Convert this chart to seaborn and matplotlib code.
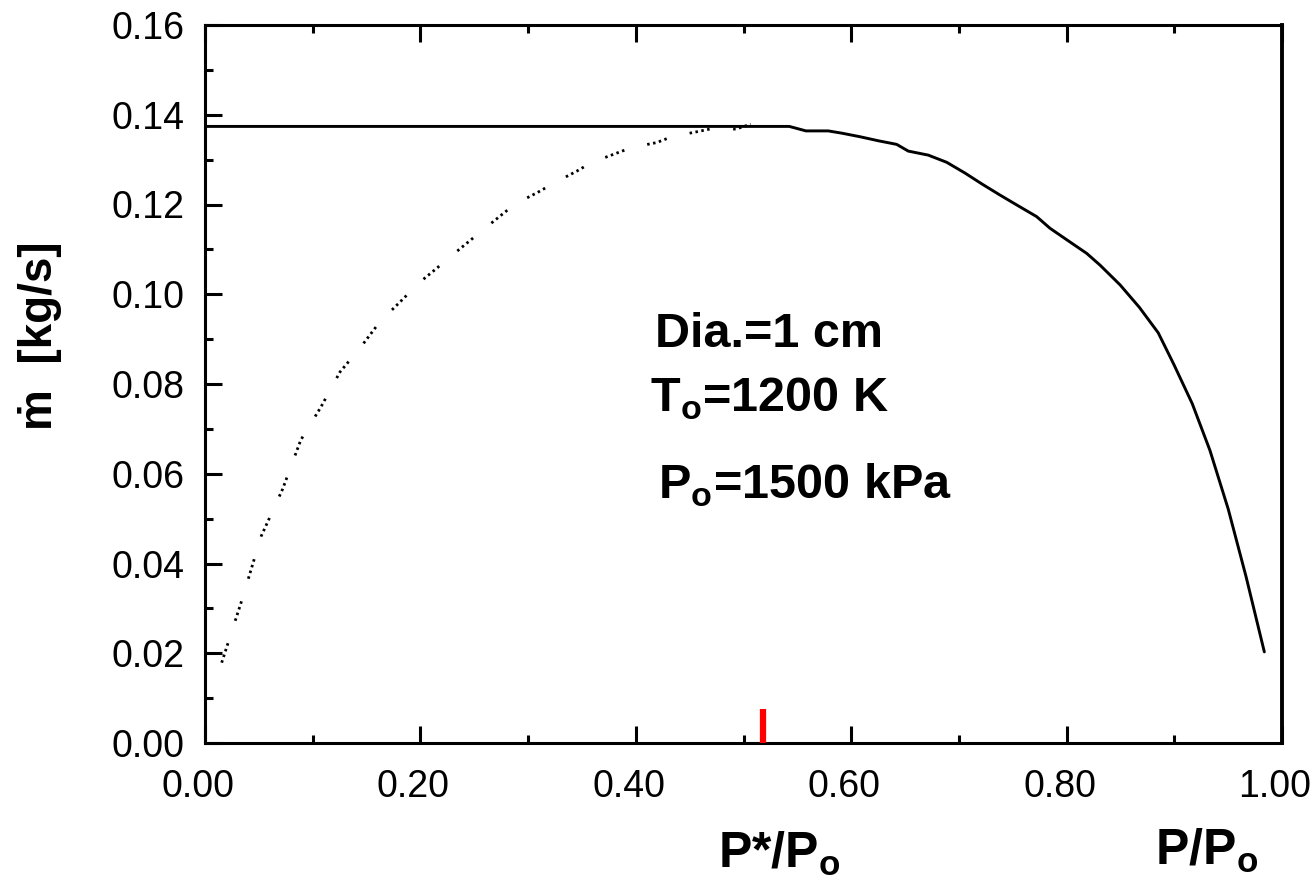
import matplotlib
matplotlib.use("Agg")
import matplotlib.pyplot as plt
import matplotlib.transforms as mtransforms
from matplotlib.ticker import MultipleLocator, FormatStrFormatter
import seaborn as sns

# choked branch: flat at critical flow, then falls off towards P/Po = 1
p_ratio = [0.0, 0.5425, 0.558, 0.5787, 0.5912, 0.6082, 0.6252, 0.6422, 0.6530,
           0.6716, 0.6887, 0.7057, 0.7212, 0.7382, 0.7551, 0.7722, 0.7846,
           0.8016, 0.8187, 0.8310, 0.8496, 0.8675, 0.8851, 0.8997, 0.9167,
           0.9331, 0.9501, 0.9666, 0.9836]
m_flow = [0.1374, 0.1374, 0.1364, 0.1364, 0.1359, 0.1351, 0.1342, 0.1334, 0.1319,
          0.1310, 0.1294, 0.1270, 0.1246, 0.1221, 0.1197, 0.1173, 0.1147,
          0.1119, 0.1091, 0.1065, 0.1021, 0.0971, 0.0914, 0.0843, 0.0756,
          0.0652, 0.0521, 0.0371, 0.0203]

# isentropic branch below the critical ratio (dotted)
p_ratio_dot = [0.0155, 0.0346, 0.0520, 0.0721, 0.0889, 0.1077, 0.1254, 0.1439,
               0.1625, 0.1820, 0.1990, 0.2157, 0.2361, 0.2523, 0.2723, 0.2878,
               0.3089, 0.3219, 0.3457, 0.3584, 0.3828, 0.3962, 0.4194, 0.4333,
               0.4565, 0.4705, 0.4930, 0.5067]
m_flow_dot = [0.0179, 0.0321, 0.0460, 0.0566, 0.0675, 0.0749, 0.0827, 0.0880,
              0.0939, 0.0985, 0.1026, 0.1059, 0.1100, 0.1132, 0.1171, 0.1201,
              0.1227, 0.1245, 0.1275, 0.1293, 0.1315, 0.1327, 0.1338, 0.1351,
              0.1362, 0.1369, 0.1368, 0.1379]

p_crit = 0.518
p_crit_mark = 0.0075

sns.set_style("ticks")
plt.rcParams["font.family"] = ["Liberation Sans", "DejaVu Sans"]
plt.rcParams["mathtext.fontset"] = "custom"
plt.rcParams["mathtext.rm"] = "Liberation Sans"
plt.rcParams["mathtext.bf"] = "Liberation Sans:bold"
plt.rcParams["lines.scale_dashes"] = False
for key in ["text.color", "axes.labelcolor", "xtick.color", "ytick.color",
            "axes.edgecolor"]:
    plt.rcParams[key] = "black"

fig = plt.figure(figsize=(13.15, 8.85), dpi=100)
ax = fig.add_axes([205 / 1315, 142 / 885, 1077 / 1315, 718 / 885])

sns.lineplot(x=p_ratio, y=m_flow, ax=ax, color="black", lw=2.1, sort=False)
sns.lineplot(x=p_ratio_dot, y=m_flow_dot, ax=ax, color="black", lw=2.0, sort=False,
             linestyle=(0, (1.8, 2.5, 1.8, 2.5, 1.8, 2.5, 1.8, 17)))
ax.vlines(p_crit, 0, p_crit_mark, color="red", lw=4.5, zorder=5)

ax.set_xlim(0, 1.0)
ax.set_ylim(0, 0.16)
ax.xaxis.set_major_locator(MultipleLocator(0.2))
ax.xaxis.set_minor_locator(MultipleLocator(0.1))
ax.yaxis.set_major_locator(MultipleLocator(0.02))
ax.yaxis.set_minor_locator(MultipleLocator(0.01))
ax.xaxis.set_major_formatter(FormatStrFormatter("%.2f"))
ax.yaxis.set_major_formatter(FormatStrFormatter("%.2f"))

ax.tick_params(which="both", direction="in", top=True, right=False, width=2.2,
               color="black", labelcolor="black")
ax.tick_params(which="major", length=12)
ax.tick_params(which="minor", length=6)
ax.tick_params(axis="x", which="major", labelsize=27, pad=19)
ax.tick_params(axis="y", which="major", labelsize=27, pad=15)

for side in ["left", "bottom", "top"]:
    ax.spines[side].set_linewidth(2.2)
ax.spines["right"].set_linewidth(2.8)

shift = mtransforms.ScaledTranslation(-7 / 100, 0, fig.dpi_scale_trans)
for lab in ax.get_xticklabels():
    lab.set_transform(lab.get_transform() + shift)

# annotations
ax.text(0.418, 0.0883, "Dia.=1 cm", fontsize=35, fontweight="bold",
        ha="left", va="baseline")
ax.text(0.413, 0.0738, r"T$_\mathbf{o}$=1200 K", fontsize=35, fontweight="bold",
        ha="left", va="baseline")
ax.text(0.4206, 0.0545, r"P$_\mathbf{o}$=1500 kPa", fontsize=35, fontweight="bold",
        ha="left", va="baseline")

# axis labels
fig.text(779 / 1315, 1 - 868 / 885, r"P*/P$_\mathbf{o}$", fontsize=36,
         fontweight="bold", ha="center", va="baseline")
fig.text(1207 / 1315, 1 - 865 / 885, r"P/P$_\mathbf{o}$", fontsize=36,
         fontweight="bold", ha="center", va="baseline")
fig.text(40 / 1315, 1 - 336 / 885, "ṁ  [kg/s]", fontsize=33, fontweight="bold",
         rotation=90, ha="center", va="center")

fig.savefig("out.png", dpi=100)
